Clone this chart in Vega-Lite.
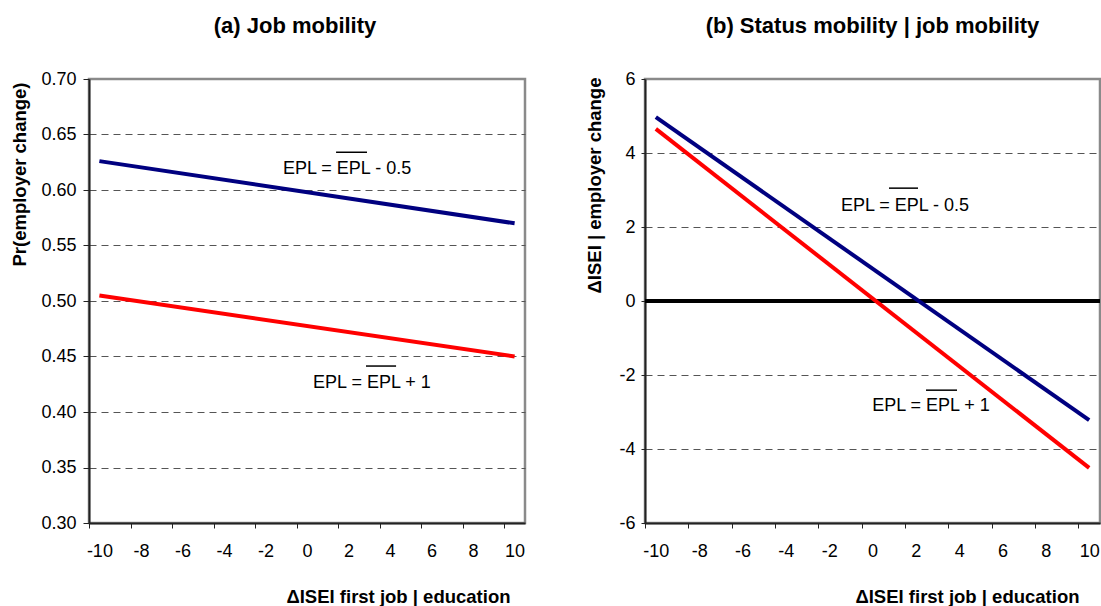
{
  "$schema": "https://vega.github.io/schema/vega-lite/v6.json",
  "padding": {"left": 9, "top": 13, "right": 2, "bottom": 0},
  "background": "white",
  "datasets": {
    "jobLines": [
      {"x": -10, "y": 0.626, "series": "EPL mean - 0.5"},
      {"x": 10, "y": 0.570, "series": "EPL mean - 0.5"},
      {"x": -10, "y": 0.505, "series": "EPL mean + 1"},
      {"x": 10, "y": 0.450, "series": "EPL mean + 1"}
    ],
    "jobText": [
      {"x": 1.93, "y": 0.619, "label": "EPL = EPL - 0.5"},
      {"x": 3.13, "y": 0.426, "label": "EPL = EPL + 1"}
    ],
    "jobBar": [
      {"x": 1.40, "x2": 2.89, "y": 0.634},
      {"x": 2.84, "x2": 4.29, "y": 0.4414}
    ],
    "statusLines": [
      {"x": -10, "y": 4.97, "series": "EPL mean - 0.5"},
      {"x": 10, "y": -3.22, "series": "EPL mean - 0.5"},
      {"x": -10, "y": 4.65, "series": "EPL mean + 1"},
      {"x": 10, "y": -4.51, "series": "EPL mean + 1"}
    ],
    "statusText": [
      {"x": 1.5, "y": 2.57, "label": "EPL = EPL - 0.5"},
      {"x": 2.7, "y": -2.84, "label": "EPL = EPL + 1"}
    ],
    "statusBar": [
      {"x": 0.76, "x2": 2.10, "y": 3.05},
      {"x": 2.47, "x2": 3.90, "y": -2.41}
    ],
    "zeroLine": [{"y": 0}]
  },
  "config": {
    "font": "Liberation Sans",
    "view": {"stroke": "#8a8a8a", "strokeWidth": 2.5},
    "axis": {
      "domainColor": "#222222",
      "domainWidth": 2,
      "tickColor": "#222222",
      "tickWidth": 1,
      "labelFont": "Liberation Sans",
      "labelFontSize": 18,
      "labelColor": "#000000",
      "titleFont": "Liberation Sans",
      "titleFontSize": 18.5,
      "titleFontWeight": "bold",
      "titleColor": "#000000",
      "gridColor": "#555555",
      "gridDash": [7, 5],
      "gridWidth": 1,
      "zindex": 1
    },
    "title": {"font": "Liberation Sans", "fontSize": 22, "fontWeight": "bold", "color": "#000000", "offset": 32}
  },
  "spacing": 57,
  "hconcat": [
    {
      "width": 436,
      "height": 444,
      "title": {"text": "(a) Job mobility", "dx": -12},
      "layer": [
        {
          "data": {"name": "jobLines"},
          "mark": {"type": "line", "strokeWidth": 4, "strokeCap": "butt"},
          "encoding": {
            "x": {
              "field": "x", "type": "quantitative",
              "scale": {"domain": [-10.5, 10.5], "nice": false, "zero": false},
              "axis": {
                "values": [-10.5, -9.5, -8.5, -7.5, -6.5, -5.5, -4.5, -3.5, -2.5, -1.5, -0.5, 0.5, 1.5, 2.5, 3.5, 4.5, 5.5, 6.5, 7.5, 8.5, 9.5, 10.5],
                "labelExpr": "((datum.value + 0.5) % 2 == 0 && datum.value < 10) ? '' + (datum.value + 0.5) : ''",
                "labelOffset": 10.38,
                "labelFlush": false,
                "labelOverlap": false,
                "tickSize": 5,
                "labelPadding": 14,
                "grid": false,
                "title": "ΔISEI first job | education",
                "titleX": 421,
                "titleAlign": "right",
                "titlePadding": 27
              }
            },
            "y": {
              "field": "y", "type": "quantitative",
              "scale": {"domain": [0.3, 0.7], "nice": false, "zero": false},
              "axis": {
                "values": [0.3, 0.35, 0.4, 0.45, 0.5, 0.55, 0.6, 0.65, 0.7],
                "format": ".2f",
                "tickSize": 6,
                "labelPadding": 7,
                "titlePadding": 11,
                "title": "Pr(employer change)",
                "titleY": 95,
                "grid": true,
                "gridOpacity": {"condition": {"test": "datum.value < 0.31 || datum.value > 0.69", "value": 0}, "value": 1}
              }
            },
            "color": {
              "field": "series", "type": "nominal",
              "scale": {"domain": ["EPL mean - 0.5", "EPL mean + 1"], "range": ["#000080", "#ff0000"]},
              "legend": null
            }
          }
        },
        {
          "data": {"name": "jobText"},
          "mark": {"type": "text", "fontSize": 18, "font": "Liberation Sans", "align": "center", "baseline": "middle", "color": "#000000"},
          "encoding": {
            "x": {"field": "x", "type": "quantitative", "title": "ΔISEI first job | education"},
            "y": {"field": "y", "type": "quantitative", "title": "Pr(employer change)"},
            "text": {"field": "label"}
          }
        },
        {
          "data": {"name": "jobBar"},
          "mark": {"type": "rule", "strokeWidth": 1.5, "color": "#000000"},
          "encoding": {
            "x": {"field": "x", "type": "quantitative", "title": "ΔISEI first job | education"},
            "x2": {"field": "x2"},
            "y": {"field": "y", "type": "quantitative", "title": "Pr(employer change)"}
          }
        }
      ]
    },
    {
      "width": 455,
      "height": 444,
      "title": {"text": "(b) Status mobility | job mobility"},
      "layer": [
        {
          "data": {"name": "zeroLine"},
          "mark": {"type": "rule", "strokeWidth": 4, "color": "#000000"},
          "encoding": {
            "y": {"field": "y", "type": "quantitative", "title": "ΔISEI | employer change"}
          }
        },
        {
          "data": {"name": "statusLines"},
          "mark": {"type": "line", "strokeWidth": 4, "strokeCap": "butt"},
          "encoding": {
            "x": {
              "field": "x", "type": "quantitative",
              "scale": {"domain": [-10.5, 10.5], "nice": false, "zero": false},
              "axis": {
                "values": [-10.5, -9.5, -8.5, -7.5, -6.5, -5.5, -4.5, -3.5, -2.5, -1.5, -0.5, 0.5, 1.5, 2.5, 3.5, 4.5, 5.5, 6.5, 7.5, 8.5, 9.5, 10.5],
                "labelExpr": "((datum.value + 0.5) % 2 == 0 && datum.value < 10) ? '' + (datum.value + 0.5) : ''",
                "labelOffset": 10.83,
                "labelFlush": false,
                "labelOverlap": false,
                "tickSize": 5,
                "labelPadding": 14,
                "grid": false,
                "title": "ΔISEI first job | education",
                "titleX": 434,
                "titleAlign": "right",
                "titlePadding": 27
              }
            },
            "y": {
              "field": "y", "type": "quantitative",
              "scale": {"domain": [-6, 6], "nice": false, "zero": false},
              "axis": {
                "values": [-6, -4, -2, 0, 2, 4, 6],
                "labelExpr": "'' + datum.value",
                "tickSize": 4,
                "labelPadding": 6,
                "titlePadding": 14,
                "title": "ΔISEI | employer change",
                "titleY": 106,
                "grid": true,
                "gridOpacity": {"condition": {"test": "abs(datum.value) > 5", "value": 0}, "value": 1}
              }
            },
            "color": {
              "field": "series", "type": "nominal",
              "scale": {"domain": ["EPL mean - 0.5", "EPL mean + 1"], "range": ["#000080", "#ff0000"]},
              "legend": null
            }
          }
        },
        {
          "data": {"name": "statusText"},
          "mark": {"type": "text", "fontSize": 18, "font": "Liberation Sans", "align": "center", "baseline": "middle", "color": "#000000"},
          "encoding": {
            "x": {"field": "x", "type": "quantitative", "title": "ΔISEI first job | education"},
            "y": {"field": "y", "type": "quantitative", "title": "ΔISEI | employer change"},
            "text": {"field": "label"}
          }
        },
        {
          "data": {"name": "statusBar"},
          "mark": {"type": "rule", "strokeWidth": 1.5, "color": "#000000"},
          "encoding": {
            "x": {"field": "x", "type": "quantitative", "title": "ΔISEI first job | education"},
            "x2": {"field": "x2"},
            "y": {"field": "y", "type": "quantitative", "title": "ΔISEI | employer change"}
          }
        }
      ]
    }
  ]
}
